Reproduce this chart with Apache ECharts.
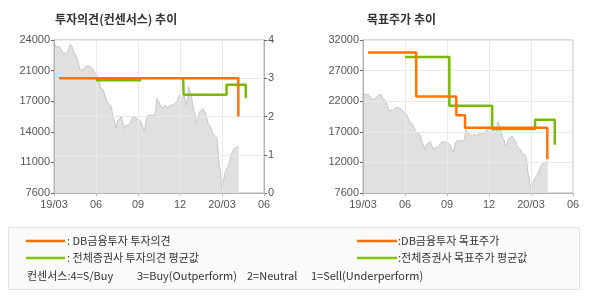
<!DOCTYPE html>
<html>
<head>
<meta charset="utf-8">
<script src="https://cdn.jsdelivr.net/npm/echarts@6/dist/echarts.min.js"></script>
<style>
html,body{margin:0;padding:0;background:#fff;}
#c{width:590px;height:300px;}
</style>
</head>
<body>
<div id="c"></div>
<script>
// ---------- DATA ----------
const titles = ['투자의견(컨센서스) 추이', '목표주가 추이'];
const xTickLabels = ['19/03', '06', '09', '12', '20/03', '06'];
const priceTickLabelsL = ['7600', '11000', '14000', '17000', '21000', '24000'];
const priceTickLabelsR = ['7600', '12000', '17000', '22000', '27000', '32000'];
const opinionTickLabels = ['0', '1', '2', '3', '4'];

const priceDates = ['2019-03-02','2019-03-06','2019-03-10','2019-03-13','2019-03-17','2019-03-21','2019-03-25','2019-03-28',
'2019-04-01','2019-04-04','2019-04-06','2019-04-10','2019-04-13','2019-04-17','2019-04-21','2019-04-24','2019-04-27',
'2019-05-01','2019-05-04','2019-05-09','2019-05-13','2019-05-16','2019-05-20','2019-05-24','2019-05-28','2019-05-31',
'2019-06-03','2019-06-07','2019-06-09','2019-06-11','2019-06-14','2019-06-16','2019-06-20','2019-06-23','2019-06-27','2019-06-30',
'2019-07-04','2019-07-07','2019-07-11','2019-07-15','2019-07-18','2019-07-22','2019-07-26','2019-07-30',
'2019-08-02','2019-08-06','2019-08-10','2019-08-13','2019-08-17','2019-08-21','2019-08-24','2019-08-28',
'2019-09-01','2019-09-04','2019-09-08','2019-09-11','2019-09-15','2019-09-19','2019-09-22','2019-09-26','2019-09-29',
'2019-10-03','2019-10-07','2019-10-09','2019-10-12','2019-10-16','2019-10-19','2019-10-23','2019-10-26','2019-10-30',
'2019-11-03','2019-11-06','2019-11-10','2019-11-14','2019-11-17','2019-11-21','2019-11-24','2019-11-28','2019-11-30',
'2019-12-04','2019-12-07','2019-12-10','2019-12-12','2019-12-15','2019-12-18','2019-12-20','2019-12-23','2019-12-27','2019-12-31',
'2020-01-04','2020-01-06','2020-01-10','2020-01-13','2020-01-17','2020-01-21','2020-01-24','2020-01-28',
'2020-02-01','2020-02-04','2020-02-08','2020-02-11','2020-02-15','2020-02-18','2020-02-21','2020-02-23','2020-02-26','2020-02-28',
'2020-03-01','2020-03-04','2020-03-07','2020-03-10','2020-03-14','2020-03-17','2020-03-21','2020-03-25','2020-03-28',
'2020-04-01','2020-04-05','2020-04-07'];
const priceValues = [23640,23280,23100,23280,23000,22570,22390,22570,
22850,23280,23530,23280,22750,22570,22030,21310,20780,
20960,20780,21140,20960,21240,21060,20960,20600,20420,
20240,19700,19350,18810,18630,18700,18090,17550,17200,17380,
16840,15940,15760,14510,15410,15230,15760,15940,
14510,14870,15050,14870,15410,15760,15590,15690,
15410,15590,15230,14690,14150,15590,15940,15760,15940,
15760,15940,16480,17730,17380,17020,16840,16660,17020,
16660,16840,17020,16840,17020,17200,17380,17550,18090,
17910,17730,18090,17550,17020,17550,18990,18630,17730,16480,
15940,15050,15590,16300,16480,16660,16480,15940,
15050,15050,14510,13970,14150,13620,12900,11110,10030,8960,
7890,8780,9680,10030,9860,10750,11650,12180,12360,
12540,12720,12540];

// DB금융투자 투자의견 (step changes)
const dbOpinionDates = ['2019-03-12', '2020-04-06'];
const dbOpinionValues = [3, 2];
// 전체증권사 투자의견 평균값 (two separate stretches)
const avgOpinionDatesA = ['2019-06-01', '2019-09-08'];
const avgOpinionValuesA = [2.95, 2.95];
const avgOpinionDatesB = ['2019-12-08', '2019-12-09', '2020-03-11', '2020-04-22'];
const avgOpinionValuesB = [3.0, 2.57, 2.83, 2.48];
// DB금융투자 목표주가
const dbTargetDates = ['2019-03-12', '2019-06-25', '2019-09-21', '2019-10-10', '2020-04-06'];
const dbTargetValues = [30000, 23000, 20000, 18000, 13000];
// 전체증권사 목표주가 평균값
const avgTargetDates = ['2019-06-01', '2019-09-06', '2019-12-08', '2020-03-10', '2020-04-22'];
const avgTargetValues = [29300, 21500, 17800, 19300, 15300];

const legendLeft = [': DB금융투자 투자의견', ': 전체증권사 투자의견 평균값'];
const legendRight = [':DB금융투자 목표주가', ':전체증권사 목표주가 평균값'];
const consensusNotes = ['컨센서스:4=S/Buy', '3=Buy(Outperform)', '2=Neutral', '1=Sell(Underperform)'];

// ---------- HELPERS ----------
function monthPos(s) {
  const p = s.split('-').map(Number);
  const dim = new Date(p[0], p[1], 0).getDate();
  return (p[0] - 2019) * 12 + (p[1] - 3) + (p[2] - 1) / dim;
}
function pairs(dates, vals) { return dates.map((d, i) => [monthPos(d), vals[i]]); }

const ORANGE = '#ff7400';
const GREEN = '#79b900';
const AXIS = '#b4b4b4';
const GRIDC = '#e9e9e9';
const NUMFONT = 'Liberation Sans, Arial, sans-serif';
const KFONT = '"Noto Sans CJK KR", sans-serif';

function xAxisFor(gi) {
  return {
    type: 'value', gridIndex: gi, min: 0, max: 15, interval: 3, z: 1,
    axisLine: { show: true, lineStyle: { color: AXIS, width: 1 } },
    axisTick: { show: true, length: 3, lineStyle: { color: AXIS } },
    axisLabel: { color: '#555', fontSize: 11, fontFamily: NUMFONT, margin: 6,
      formatter: (v) => xTickLabels[Math.round(v / 3)] },
    splitLine: { show: true, lineStyle: { color: GRIDC, width: 1 } }
  };
}

const lineBase = (name, xi, yi, data, color) => ({
  type: 'line', name, xAxisIndex: xi, yAxisIndex: yi, data, step: 'end',
  showSymbol: false, symbol: 'none', z: 3, silent: true,
  lineStyle: { color, width: 2.5 }
});

const option = {
  animation: false,
  backgroundColor: '#fff',
  grid: [
    { left: 54, top: 40, width: 210, height: 153, show: true, borderColor: AXIS, borderWidth: 1 },
    { left: 363, top: 40, width: 210, height: 153, show: true, borderColor: AXIS, borderWidth: 1 }
  ],
  xAxis: [xAxisFor(0), xAxisFor(1)],
  yAxis: [
    { type: 'value', gridIndex: 0, position: 'left', min: 7600, max: 24000, interval: 3280, z: 1,
      axisLine: { show: true, lineStyle: { color: AXIS } },
      axisTick: { show: true, length: 3, lineStyle: { color: '#666' } },
      axisLabel: { color: '#555', fontSize: 11, fontFamily: NUMFONT, margin: 4,
        formatter: (v) => priceTickLabelsL[Math.round((v - 7600) / 3280)] },
      splitLine: { show: false } },
    { type: 'value', gridIndex: 0, position: 'right', min: 0, max: 4, interval: 1, z: 1,
      axisLine: { show: true, lineStyle: { color: AXIS } },
      axisTick: { show: true, length: 3, lineStyle: { color: '#666' } },
      axisLabel: { color: '#555', fontSize: 11, fontFamily: NUMFONT, margin: 4,
        formatter: (v) => opinionTickLabels[Math.round(v)] },
      splitLine: { show: true, lineStyle: { color: GRIDC } } },
    { type: 'value', gridIndex: 1, position: 'left', min: 7600, max: 32000, interval: 4880, z: 1,
      axisLine: { show: true, lineStyle: { color: AXIS } },
      axisTick: { show: true, length: 3, lineStyle: { color: '#666' } },
      axisLabel: { color: '#555', fontSize: 11, fontFamily: NUMFONT, margin: 4,
        formatter: (v) => priceTickLabelsR[Math.round((v - 7600) / 4880)] },
      splitLine: { show: true, lineStyle: { color: GRIDC } } }
  ],
  series: [
    { type: 'line', name: 'priceL', xAxisIndex: 0, yAxisIndex: 0, data: pairs(priceDates, priceValues),
      showSymbol: false, symbol: 'none', z: 0, silent: true,
      lineStyle: { color: '#c6c6c6', width: 1 }, areaStyle: { color: '#e0e0e0', opacity: 1 } },
    { type: 'line', name: 'priceR', xAxisIndex: 1, yAxisIndex: 2, data: pairs(priceDates, priceValues),
      showSymbol: false, symbol: 'none', z: 0, silent: true,
      lineStyle: { color: '#c6c6c6', width: 1 }, areaStyle: { color: '#e0e0e0', opacity: 1 } },
    lineBase('avgOpA', 0, 1, pairs(avgOpinionDatesA, avgOpinionValuesA), GREEN),
    lineBase('avgOpB', 0, 1, pairs(avgOpinionDatesB, avgOpinionValuesB), GREEN),
    lineBase('dbOp', 0, 1, pairs(dbOpinionDates, dbOpinionValues), ORANGE),
    lineBase('avgTp', 1, 2, pairs(avgTargetDates, avgTargetValues), GREEN),
    lineBase('dbTp', 1, 2, pairs(dbTargetDates, dbTargetValues), ORANGE)
  ],
  graphic: [
    { type: 'text', left: 55, top: 13, style: { text: titles[0], font: 'bold 12px ' + KFONT, fill: '#333' } },
    { type: 'text', left: 367, top: 13, style: { text: titles[1], font: 'bold 12px ' + KFONT, fill: '#333' } },
    { type: 'rect', shape: { x: 8.5, y: 227.5, width: 571, height: 62 }, style: { fill: '#fafafa', stroke: '#e2e2e2', lineWidth: 1 }, z: 0 },
    { type: 'line', shape: { x1: 26, y1: 241, x2: 65, y2: 241 }, style: { stroke: '#f07300', lineWidth: 2.5 }, z: 1 },
    { type: 'line', shape: { x1: 26, y1: 258, x2: 65, y2: 258 }, style: { stroke: '#88c010', lineWidth: 2.5 }, z: 1 },
    { type: 'text', x: 67, y: 241, style: { text: legendLeft[0], font: '11px ' + KFONT, fill: '#333', textVerticalAlign: 'middle', verticalAlign: 'middle' }, z: 1 },
    { type: 'text', x: 67, y: 258, style: { text: legendLeft[1], font: '11px ' + KFONT, fill: '#333', textVerticalAlign: 'middle', verticalAlign: 'middle' }, z: 1 },
    { type: 'line', shape: { x1: 357, y1: 241, x2: 397, y2: 241 }, style: { stroke: '#f07300', lineWidth: 2.5 }, z: 1 },
    { type: 'line', shape: { x1: 357, y1: 258, x2: 397, y2: 258 }, style: { stroke: '#88c010', lineWidth: 2.5 }, z: 1 },
    { type: 'text', x: 398, y: 241, style: { text: legendRight[0], font: '11px ' + KFONT, fill: '#333', textVerticalAlign: 'middle', verticalAlign: 'middle' }, z: 1 },
    { type: 'text', x: 398, y: 258, style: { text: legendRight[1], font: '11px ' + KFONT, fill: '#333', textVerticalAlign: 'middle', verticalAlign: 'middle' }, z: 1 },
    { type: 'text', x: 27, y: 276, style: { text: consensusNotes[0], font: '11px ' + KFONT, fill: '#333', textVerticalAlign: 'middle', verticalAlign: 'middle' }, z: 1 },
    { type: 'text', x: 137, y: 276, style: { text: consensusNotes[1], font: '11px ' + KFONT, fill: '#333', textVerticalAlign: 'middle', verticalAlign: 'middle' }, z: 1 },
    { type: 'text', x: 247, y: 276, style: { text: consensusNotes[2], font: '11px ' + KFONT, fill: '#333', textVerticalAlign: 'middle', verticalAlign: 'middle' }, z: 1 },
    { type: 'text', x: 311, y: 276, style: { text: consensusNotes[3], font: '11px ' + KFONT, fill: '#333', textVerticalAlign: 'middle', verticalAlign: 'middle' }, z: 1 }
  ]
};

const chart = echarts.init(document.getElementById('c'), null, { renderer: 'canvas' });
chart.setOption(option);
</script>
</body>
</html>
